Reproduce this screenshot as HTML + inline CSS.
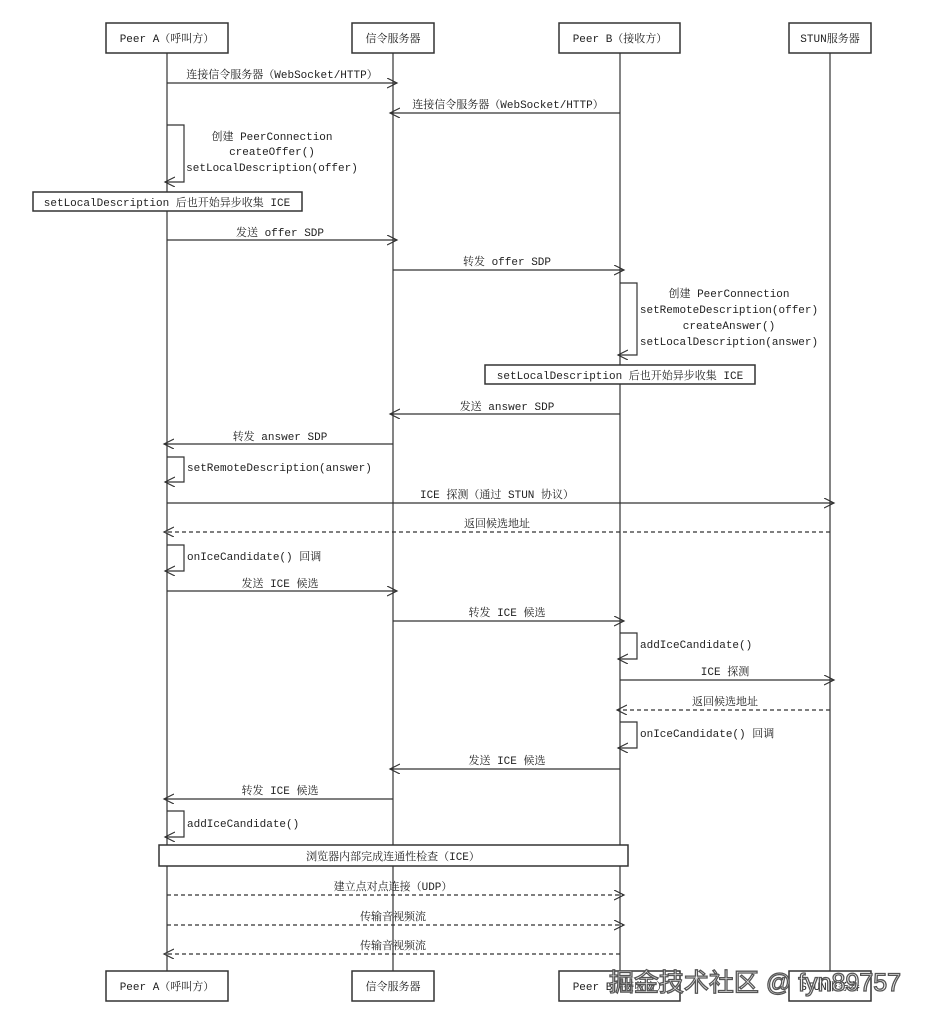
<!DOCTYPE html>
<html><head><meta charset="utf-8"><style>
html,body{margin:0;padding:0;background:#fff;}
svg{display:block;}
text{font-family:"Liberation Mono","Noto Serif CJK SC",monospace;font-size:11px;fill:#222;}
.c{text-anchor:middle;}
.wm{font-family:"Liberation Sans","Noto Sans CJK SC",sans-serif;font-size:25px;fill:#fff;stroke:#555;stroke-width:1.3;text-anchor:middle;}
</style></head><body>
<svg width="925" height="1024" viewBox="0 0 925 1024" xmlns="http://www.w3.org/2000/svg">
<defs>
<marker id="a" markerWidth="12" markerHeight="12" refX="10" refY="5" orient="auto" markerUnits="userSpaceOnUse">
<path d="M0,0 L10,5 L0,10" fill="none" stroke="#333" stroke-width="1.2"/>
</marker>
</defs>
<g stroke="#333" stroke-width="1.2" fill="none">
<line x1="167" y1="53" x2="167" y2="971"/>
<line x1="393" y1="53" x2="393" y2="971"/>
<line x1="620" y1="53" x2="620" y2="971"/>
<line x1="830" y1="53" x2="830" y2="971"/>
</g>
<g stroke="#333" stroke-width="1.5" fill="#fff">
<rect x="106" y="23" width="122" height="30"/>
<rect x="352" y="23" width="82" height="30"/>
<rect x="559" y="23" width="121" height="30"/>
<rect x="789" y="23" width="82" height="30"/>
<rect x="106" y="971" width="122" height="30"/>
<rect x="352" y="971" width="82" height="30"/>
<rect x="559" y="971" width="121" height="30"/>
<rect x="789" y="971" width="82" height="30"/>
<rect x="33" y="192" width="269" height="19"/>
<rect x="485" y="365" width="270" height="19"/>
<rect x="159" y="845" width="469" height="21"/>
</g>
<g stroke="#333" stroke-width="1.2" fill="none" marker-end="url(#a)">
<line x1="167" y1="83" x2="397" y2="83"/>
<line x1="620" y1="113" x2="390" y2="113"/>
<polyline points="167,125 184,125 184,182 165,182"/>
<line x1="167" y1="240" x2="397" y2="240"/>
<line x1="393" y1="270" x2="624" y2="270"/>
<polyline points="620,283 637,283 637,355 618,355"/>
<line x1="620" y1="414" x2="390" y2="414"/>
<line x1="393" y1="444" x2="164" y2="444"/>
<polyline points="167,457 184,457 184,482 165,482"/>
<line x1="167" y1="503" x2="834" y2="503"/>
<line x1="830" y1="532" x2="164" y2="532" stroke-dasharray="4,3"/>
<polyline points="167,545 184,545 184,571 165,571"/>
<line x1="167" y1="591" x2="397" y2="591"/>
<line x1="393" y1="621" x2="624" y2="621"/>
<polyline points="620,633 637,633 637,659 618,659"/>
<line x1="620" y1="680" x2="834" y2="680"/>
<line x1="830" y1="710" x2="617" y2="710" stroke-dasharray="4,3"/>
<polyline points="620,722 637,722 637,748 618,748"/>
<line x1="620" y1="769" x2="390" y2="769"/>
<line x1="393" y1="799" x2="164" y2="799"/>
<polyline points="167,811 184,811 184,837 165,837"/>
<line x1="167" y1="895" x2="624" y2="895" stroke-dasharray="4,3"/>
<line x1="167" y1="925" x2="624" y2="925" stroke-dasharray="4,3"/>
<line x1="620" y1="954" x2="164" y2="954" stroke-dasharray="4,3"/>
</g>
<text class="c" x="167" y="42">Peer A（呼叫方）</text>
<text class="c" x="393" y="42">信令服务器</text>
<text class="c" x="620" y="42">Peer B（接收方）</text>
<text class="c" x="830" y="42">STUN服务器</text>
<text class="c" x="167" y="990">Peer A（呼叫方）</text>
<text class="c" x="393" y="990">信令服务器</text>
<text class="c" x="620" y="990">Peer B（接收方）</text>
<text class="c" x="830" y="990">STUN服务器</text>

<text class="c" x="282" y="78">连接信令服务器（WebSocket/HTTP）</text>
<text class="c" x="508" y="108">连接信令服务器（WebSocket/HTTP）</text>
<text class="c" x="272" y="140">创建 PeerConnection</text>
<text class="c" x="272" y="155">createOffer()</text>
<text class="c" x="272" y="171">setLocalDescription(offer)</text>
<text class="c" x="167" y="206">setLocalDescription 后也开始异步收集 ICE</text>
<text class="c" x="280" y="236">发送 offer SDP</text>
<text class="c" x="507" y="265">转发 offer SDP</text>
<text class="c" x="729" y="297">创建 PeerConnection</text>
<text class="c" x="729" y="313">setRemoteDescription(offer)</text>
<text class="c" x="729" y="329">createAnswer()</text>
<text class="c" x="729" y="345">setLocalDescription(answer)</text>
<text class="c" x="620" y="379">setLocalDescription 后也开始异步收集 ICE</text>
<text class="c" x="507" y="410">发送 answer SDP</text>
<text class="c" x="280" y="440">转发 answer SDP</text>
<text x="187" y="471">setRemoteDescription(answer)</text>
<text class="c" x="497" y="498">ICE 探测（通过 STUN 协议）</text>
<text class="c" x="497" y="527">返回候选地址</text>
<text x="187" y="560">onIceCandidate() 回调</text>
<text class="c" x="280" y="587">发送 ICE 候选</text>
<text class="c" x="507" y="616">转发 ICE 候选</text>
<text x="640" y="648">addIceCandidate()</text>
<text class="c" x="725" y="675">ICE 探测</text>
<text class="c" x="725" y="705">返回候选地址</text>
<text x="640" y="737">onIceCandidate() 回调</text>
<text class="c" x="507" y="764">发送 ICE 候选</text>
<text class="c" x="280" y="794">转发 ICE 候选</text>
<text x="187" y="827">addIceCandidate()</text>
<text class="c" x="393" y="860">浏览器内部完成连通性检查（ICE）</text>
<text class="c" x="393" y="890">建立点对点连接（UDP）</text>
<text class="c" x="393" y="920">传输音视频流</text>
<text class="c" x="393" y="949">传输音视频流</text>
<text class="wm" x="755" y="991">掘金技术社区 @ fyn89757</text>
</svg>
</body></html>
